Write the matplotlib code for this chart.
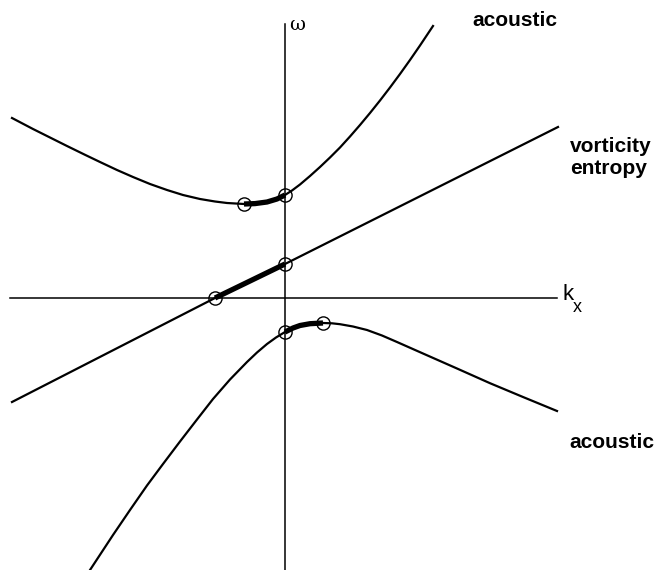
import matplotlib.pyplot as plt

# dispersion diagram, values (arbitrary units)
upper_kx = [-2.73, -2.52, -2.35, -2.18, -2.00, -1.85, -1.68, -1.52, -1.35, -1.18, -1.02,
            -0.85, -0.70, -0.58, -0.41, -0.30, -0.18, -0.08, 0.00,
            0.07, 0.15, 0.25, 0.35, 0.45, 0.55, 0.65, 0.75, 0.85, 0.95, 1.05, 1.15,
            1.25, 1.35, 1.48]
upper_w = [1.80, 1.69, 1.605, 1.52, 1.432, 1.36, 1.28, 1.21, 1.14, 1.08, 1.03,
           0.99, 0.965, 0.95, 0.94, 0.944, 0.96, 0.99, 1.03,
           1.075, 1.135, 1.22, 1.31, 1.405, 1.505, 1.615, 1.73, 1.85, 1.975, 2.105, 2.24,
           2.38, 2.525, 2.72]

lower_kx = [-1.95, -1.72, -1.55, -1.38, -1.22, -1.05, -0.88, -0.72, -0.55, -0.38,
            -0.28, -0.18, -0.09, 0.00, 0.08, 0.15, 0.25, 0.38, 0.47, 0.55, 0.68,
            0.82, 0.97, 1.12, 1.38, 1.72, 2.05, 2.38, 2.72]
lower_w = [-2.72, -2.37, -2.12, -1.875, -1.66, -1.435, -1.215, -1.01, -0.815, -0.64,
           -0.545, -0.46, -0.395, -0.34, -0.30, -0.275, -0.257, -0.25, -0.253, -0.262, -0.285,
           -0.32, -0.375, -0.44, -0.555, -0.705, -0.852, -0.99, -1.13]

vort_kx = [-2.73, -0.70, 0.00, 2.73]
vort_w = [-1.04, 0.00, 0.34, 1.71]

# thick parts between the circled points (index ranges into the lists above)
upper_seg = (14, 18)
lower_seg = (13, 17)
vort_seg = (1, 2)

plt.rcParams['font.family'] = ['Liberation Sans', 'DejaVu Sans']

fig = plt.figure(figsize=(6.56, 5.70), dpi=100)
ax = fig.add_axes([0, 0, 1, 1])
ax.set_xlim(-2.85, 3.71)
ax.set_ylim(-2.72, 2.98)
ax.axis("off")

# axes
ax.plot([-2.75, 2.72], [0, 0], color="black", lw=1.1)
ax.plot([0, 0], [-2.75, 2.74], color="black", lw=1.1)

# branches
for kx, w, (a, b) in [(upper_kx, upper_w, upper_seg),
                      (lower_kx, lower_w, lower_seg),
                      (vort_kx, vort_w, vort_seg)]:
    ax.plot(kx, w, color="black", lw=1.6, solid_joinstyle="round")
    ax.plot(kx[a:b + 1], w[a:b + 1], color="black", lw=3.8, solid_capstyle="butt",
            solid_joinstyle="round")
    ax.plot([kx[a], kx[b]], [w[a], w[b]], ls="none", marker="o", ms=9.5,
            mfc="none", mec="black", mew=1.0)

# labels
ax.text(0.12, 2.73, "ω", fontsize=14, family="DejaVu Serif", ha="center", va="center")
ax.text(2.78, 0.04, "k", fontsize=16, ha="left", va="center")
ax.text(2.88, -0.09, "x", fontsize=13, ha="left", va="center")

ax.text(1.87, 2.78, "acoustic", fontsize=15, fontweight="bold", ha="left", va="center")
ax.text(2.85, 1.51, "vorticity", fontsize=15, fontweight="bold", ha="left", va="center")
ax.text(2.85, 1.30, "entropy", fontsize=15, fontweight="bold", ha="left", va="center")
ax.text(2.84, -1.45, "acoustic", fontsize=15, fontweight="bold", ha="left", va="center")

fig.savefig("out.png", dpi=100)
